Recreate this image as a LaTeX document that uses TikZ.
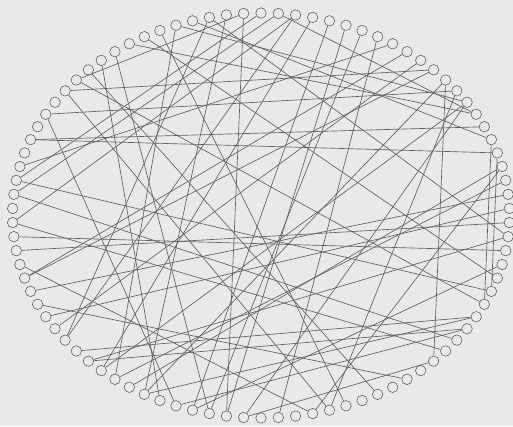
\documentclass[tikz,border=0pt]{standalone}
\begin{document}
\begin{tikzpicture}[x=1pt,y=-1pt,
  vtx/.style={circle,draw=gray!70!black,line width=0.55pt,minimum size=10.5pt,inner sep=0pt},
  edge/.style={draw=gray!75!black,line width=0.65pt}]
\fill[gray!17] (0,0) rectangle (513,426);
\useasboundingbox (0,0) rectangle (513,426);
\foreach \k in {0,...,89}{
  \node[vtx] (n\k) at ({261+248.5*cos(90-4*\k)},{215.5-202.5*sin(90-4*\k)}) {};
}
\foreach \a/\b in {89/47,83/27,73/16,73/18,12/34,57/30,56/31,62/21,67/33,9/63,
  77/11,75/13,82/15,1/69,87/58,85/54,80/51,78/29,77/41,3/55,4/49,5/47,6/48,
  12/52,14/55,14/46,17/29,18/28,26/49,19/42,42/64,44/7,48/81,34/46,30/52,31/50,
  65/23,70/28,71/8,69/32,75/50,63/11,86/17,85/14,87/24,0/70,1/15,2/67,89/78,
  54/20,56/24,13/41,53/19,59/10,60/22,66/25,58/2,61/36,52/88,40/84,38/79}{
  \draw[edge] (n\a) -- (n\b);
}
\end{tikzpicture}
\end{document}
